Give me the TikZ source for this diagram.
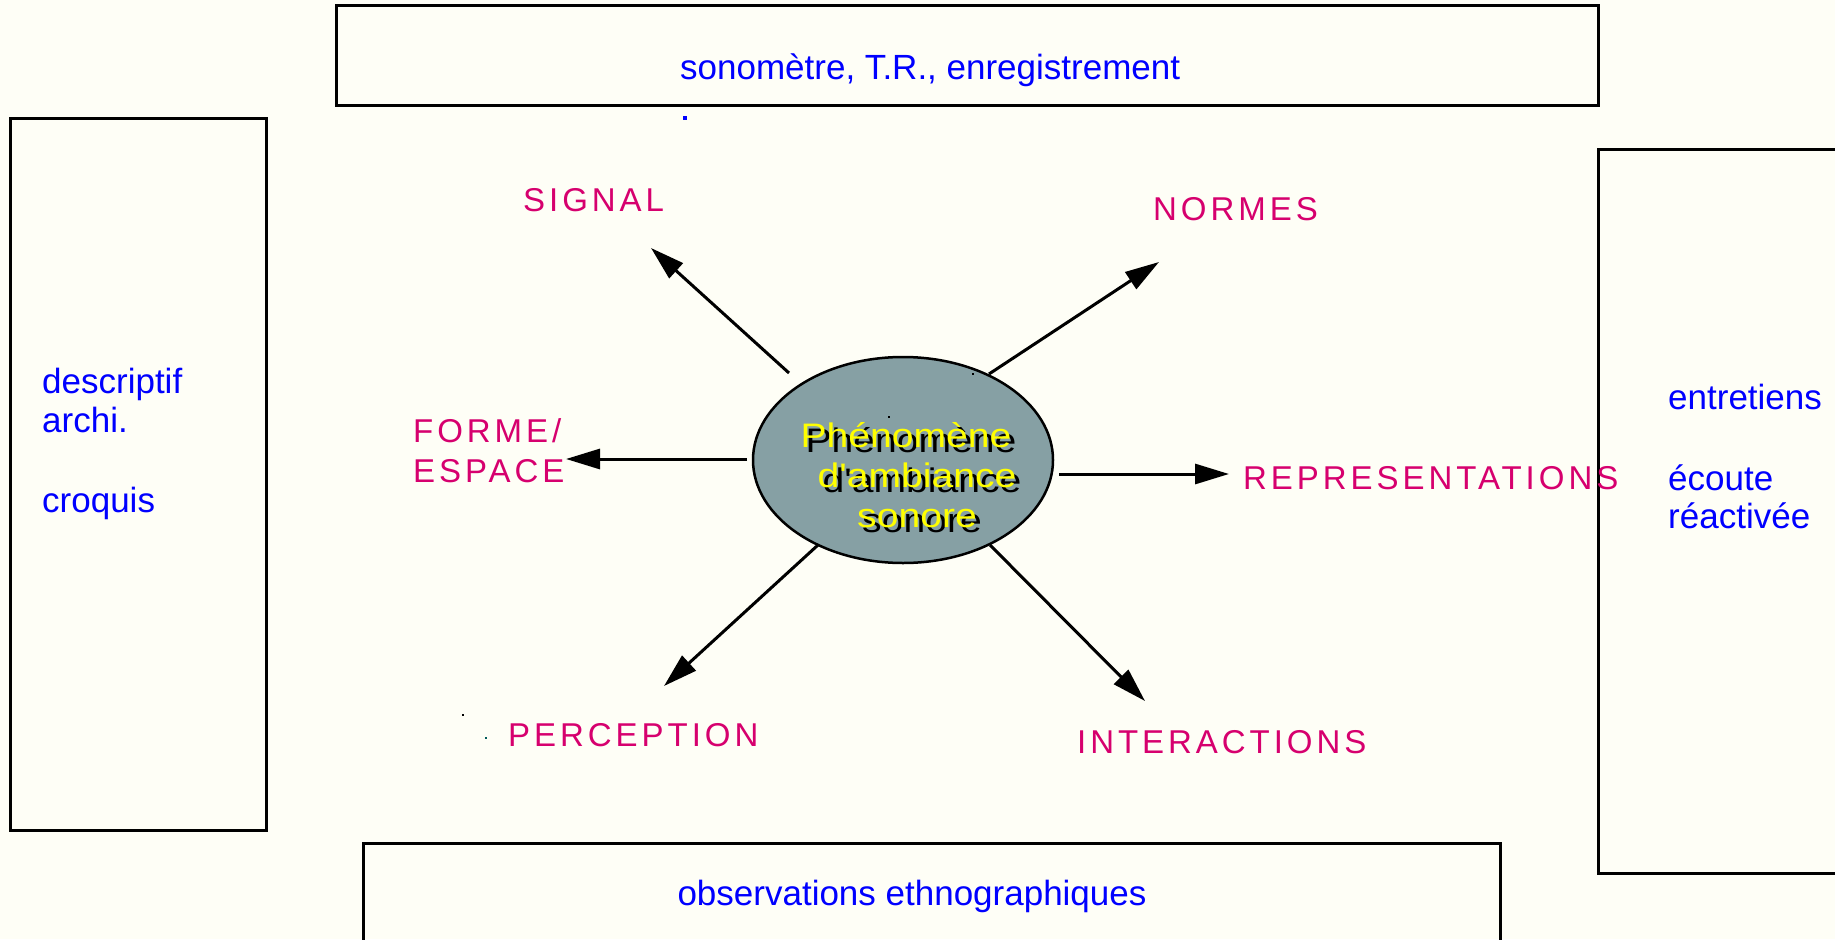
\documentclass[tikz,border=0pt]{standalone}
\usepackage{fontspec}
\setmainfont{Liberation Sans}
\usetikzlibrary{arrows.meta,shapes.geometric}
\definecolor{bg}{RGB}{254,254,246}
\definecolor{mag}{RGB}{214,0,110}
\definecolor{blu}{RGB}{0,0,255}
\definecolor{ell}{RGB}{134,160,164}
\definecolor{ylw}{RGB}{255,255,0}
\definecolor{dotteal}{RGB}{0,90,90}
\newfontfamily\magfont[LetterSpace=12]{Liberation Sans}
\newfontfamily\ellfont[FakeStretch=1.15]{Liberation Sans}
\tikzset{
 frame/.style={draw=black, line width=3pt},
 bluetxt/.style={text=blu, font=\fontsize{35}{40}\selectfont, anchor=base west, inner sep=0pt},
 magtxt/.style={text=mag, font=\magfont\fontsize{33}{40}\selectfont, anchor=base west, inner sep=0pt},
 elltxt/.style={font=\ellfont\fontsize{34}{40}\selectfont, anchor=base, inner sep=0pt},
 arr/.style={line width=3pt, -{Triangle[length=34pt,width=20pt]}},
}
\begin{document}
\begin{tikzpicture}[x=1pt,y=-1pt]
\useasboundingbox (0,0) rectangle (1835,939);
\clip (0,0) rectangle (1835,939);
\fill[bg] (0,0) rectangle (1835,939);
% boxes
\draw[frame] (336,6) rectangle (1598,106);
\draw[frame] (10,119) rectangle (266,830);
\draw[frame] (1850,149) -- (1598,149) -- (1598,873) -- (1850,873);
\draw[frame] (363,960) -- (363,843) -- (1500,843) -- (1500,960);
% box texts
\node[bluetxt] (t1) at (680,80) {sonomètre, T.R., enregistrement};
\node[bluetxt] (l1) at (42,393) {descriptif};
\node[bluetxt] (l2) at (42,432) {archi.};
\node[bluetxt] (l3) at (42,512) {croquis};
\node[bluetxt] (r1) at (1668,409) {entretiens};
\node[bluetxt] (r2) at (1668,490) {écoute};
\node[bluetxt] (r3) at (1668,528) {réactivée};
\node[bluetxt, anchor=base] (b1) at (912,905) {observations ethnographiques};
% central ellipse
\node[ellipse, draw=black, line width=2.5pt, fill=ell, minimum width=300pt, minimum height=206pt, inner sep=0pt] (core) at (903,460) {};
\node[elltxt, text=black] (c1s) at (911,452) {Phénomène};
\node[elltxt, text=black] (c2s) at (922,492) {d'ambiance};
\node[elltxt, text=black] (c3s) at (922,532) {sonore};
\node[elltxt, text=ylw] (c1) at (906,447) {Phénomène};
\node[elltxt, text=ylw] (c2) at (917,487) {d'ambiance};
\node[elltxt, text=ylw] (c3) at (917,527) {sonore};
% labels
\node[magtxt] (signal) at (523,211) {SIGNAL};
\node[magtxt] (normes) at (1153,220) {NORMES};
\node[magtxt] (forme1) at (413,442) {FORME/};
\node[magtxt] (forme2) at (413,482) {ESPACE};
\node[magtxt] (repr) at (1243,489) {REPRESENTATIONS};
\node[magtxt] (perc) at (508,746) {PERCEPTION};
\node[magtxt] (inter) at (1077,753) {INTERACTIONS};
% arrow endpoints
\coordinate (s1) at (789,373); \coordinate (e1) at (651,248);
\coordinate (s2) at (989,374); \coordinate (e2) at (1159,262);
\coordinate (s3) at (747,459); \coordinate (e3) at (566,459);
\coordinate (s4) at (1059,474); \coordinate (e4) at (1229,474);
\coordinate (s5) at (818,545); \coordinate (e5) at (664,686);
\coordinate (s6) at (990,545); \coordinate (e6) at (1145,701);
\draw[arr] (s1) -- (e1);
\draw[arr] (s2) -- (e2);
\draw[arr] (s3) -- (e3);
\draw[arr] (s4) -- (e4);
\draw[arr] (s5) -- (e5);
\draw[arr] (s6) -- (e6);
% stray dots
\fill[blu] (683,116) rectangle (687,120);
\fill[black] (462,714) rectangle (464,716);
\fill[dotteal] (485,737) rectangle (487,739);
\fill[black] (888,416) rectangle (890,418);
\fill[black] (972,373) rectangle (974,375);
\end{tikzpicture}
\end{document}
